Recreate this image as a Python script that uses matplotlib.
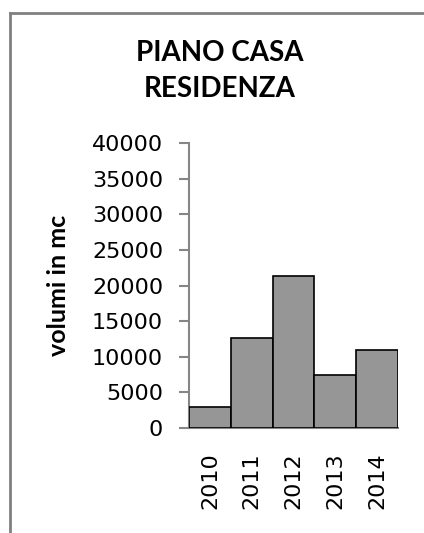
import matplotlib
matplotlib.use("Agg")
import matplotlib.pyplot as plt
from matplotlib.lines import Line2D

years = ["2010", "2011", "2012", "2013", "2014"]
volumes = [2900, 12700, 21400, 7400, 11000]
yticks = [0, 5000, 10000, 15000, 20000, 25000, 30000, 35000, 40000]

W, H = 424, 533
fig = plt.figure(figsize=(W / 100, H / 100), dpi=100)
fig.patch.set_facecolor("white")

ax = fig.add_axes([189 / W, 1 - 428 / H, (398 - 189) / W, (428 - 143) / H])
x = list(range(len(years)))
ax.bar(x, volumes, width=1.0, color="#969696", edgecolor="black", linewidth=1.2, zorder=3)
ax.set_xlim(-0.5, len(years) - 0.5)
ax.set_ylim(0, 40000)
ax.set_yticks(yticks)
ax.set_yticklabels([str(v) for v in yticks], fontfamily="DejaVu Sans", fontsize=16)
ax.set_xticks(x)
ax.set_xticklabels(years, rotation=90, fontfamily="DejaVu Sans", fontsize=16)
ax.tick_params(axis="y", length=7.2, width=1.5, color="#868686", pad=11.5)
ax.tick_params(axis="x", length=0, pad=17.5)
for s in ["top", "right"]:
    ax.spines[s].set_visible(False)
ax.spines["left"].set_color("#868686")
ax.spines["left"].set_linewidth(1.5)
ax.spines["bottom"].set_color("#868686")
ax.spines["bottom"].set_linewidth(1.5)
ax.set_ylabel("volumi in mc", fontfamily="Lato", fontweight="bold", fontsize=18)
ax.yaxis.set_label_coords((70 - 189) / (398 - 189), 0.5)

fig.text(220 / W, 1 - 71 / H, "PIANO CASA\nRESIDENZA", ha="center", va="center",
         fontfamily="Lato", fontweight="bold", fontsize=20, linespacing=1.5)

# outer border (top and left visible)
fig.add_artist(Line2D([9.5 / W, 1.0], [1 - 12.5 / H, 1 - 12.5 / H], transform=fig.transFigure,
                      color="#808080", linewidth=2))
fig.add_artist(Line2D([9.5 / W, 9.5 / W], [0, 1 - 12.5 / H], transform=fig.transFigure,
                      color="#808080", linewidth=2))

fig.savefig("out.png", dpi=100)
